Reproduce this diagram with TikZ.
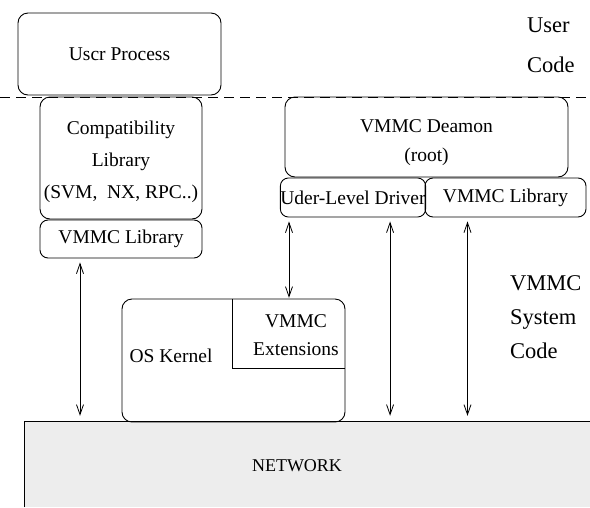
\documentclass[tikz,border=0pt]{standalone}
\usepackage{fontspec}
\setmainfont{Liberation Serif}
\usetikzlibrary{arrows.meta,calc}

\tikzset{
  box/.style={draw, line width=0.9pt, rounded corners=10pt, inner sep=0pt,
              align=center, font=\fontsize{19.5}{34}\selectfont},
  flat/.style={inner sep=0pt, align=center, font=\fontsize{19.5}{28}\selectfont},
  side/.style={inner sep=0pt, anchor=base west, align=left,
               font=\fontsize{22.5}{34}\selectfont},
  link/.style={line width=0.8pt, {Straight Barb[length=10pt,width=7pt]}-{Straight Barb[length=10pt,width=7pt]},
               shorten <=4pt, shorten >=6pt},
}

\begin{document}
\begin{tikzpicture}[x=1pt,y=-1pt]
  \useasboundingbox (0,0) rectangle (590,507);

  % network layer
  \node[flat, fill=black!7, minimum width=565pt, minimum height=85pt] (net) at (307.5,464.5) {};
  \node[flat, font=\fontsize{18}{24}\selectfont] (netlabel) at (297,466) {NETWORK};
  \draw[line width=0.9pt] (net.south west) -- (net.north west) -- (net.north east);

  % user / system boundary
  \draw[line width=0.8pt, dash pattern=on 10pt off 6pt] (0,97) -- (590,97);

  % user side
  \node[box, minimum width=203pt, minimum height=82pt] (proc) at (119.5,54) {Uscr Process};
  \node[box, minimum width=162pt, minimum height=122pt] (compat) at (121,158) {};
  \node[flat, font=\fontsize{19.5}{32}\selectfont] (compattext) at (121,162)
       {Compatibility\\Library\\(SVM,\ \ NX, RPC..)};
  \node[box, rounded corners=8pt, minimum width=162pt, minimum height=38pt] (libl) at (121,239) {VMMC Library};

  % daemon side
  \node[box, minimum width=283pt, minimum height=80pt] (daemon) at (426.5,137) {};
  \node[flat, font=\fontsize{19.5}{29}\selectfont] (daemontext) at (426.5,143) {VMMC Deamon\\(root)};
  \node[box, rounded corners=8pt, minimum width=140pt, minimum height=39pt] (driver) at (353,197.5) {Uder-Level Driver};
  \node[box, rounded corners=8pt, minimum width=161pt, minimum height=39pt] (libr) at (505.5,197.5) {VMMC Library};

  % kernel
  \node[box, minimum width=223pt, minimum height=123pt] (kernel) at (233.5,360.5) {};
  \node[flat] (kname) at (171,356) {OS Kernel};
  \node[flat, minimum width=112pt, minimum height=69pt] (ext) at (289,333.5) {};
  \node[flat] (extname) at (296,335) {VMMC\\Extensions};
  \draw[line width=0.9pt] (ext.north west) -- (ext.south west) -- (ext.south east);

  % side labels (base anchor sits on the last line)
  \node[side] (usercode) at (527,72) {User\\[6pt]Code};
  \node[side] (syscode) at (510,358) {VMMC\\System\\Code};

  % connectors
  \draw[link] ([xshift=-41pt]libl.south) -- ([xshift=-41pt]libl.south |- net.north);
  \draw[link, shorten >=1pt] (driver.south -| ext.north) -- (ext.north);
  \draw[link] ([xshift=-36pt]driver.south east) -- ([xshift=-36pt]driver.south east |- net.north);
  \draw[link] ([xshift=-38pt]libr.south) -- ([xshift=-38pt]libr.south |- net.north);
\end{tikzpicture}
\end{document}
